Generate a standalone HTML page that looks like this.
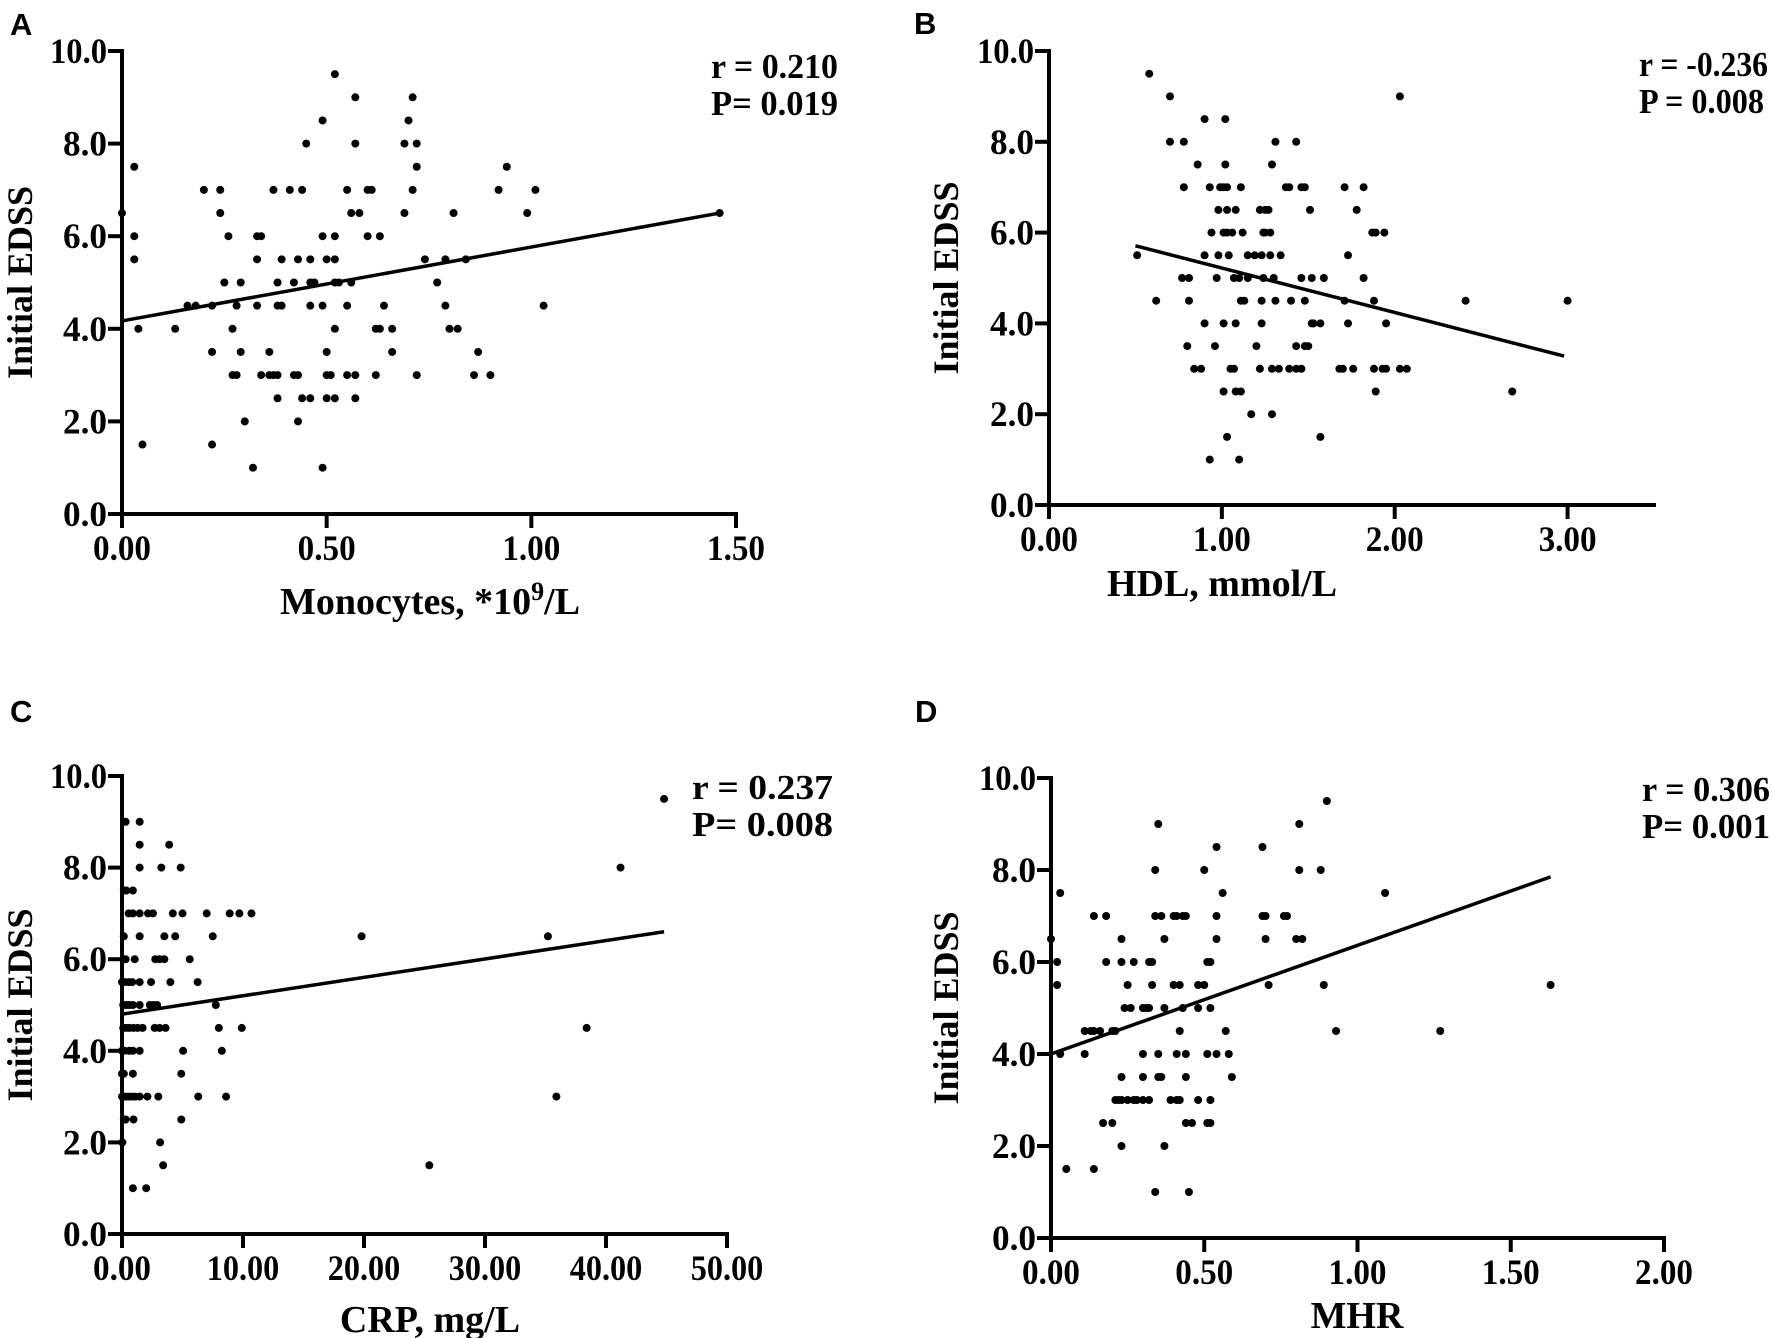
<!DOCTYPE html>
<html><head><meta charset="utf-8"><style>
html,body{margin:0;padding:0;background:#fff}
svg{display:block}
text{font-family:"Liberation Serif",serif;font-weight:bold;fill:#000}
.lt{font-family:"Liberation Sans",sans-serif}
</style></head><body>
<svg id="fig" width="1772" height="1338" viewBox="0 0 1772 1338" xmlns="http://www.w3.org/2000/svg"></svg>
<script>
// Panel A: Monocytes
const aX=[0,0.03,0.03,0.03,0.04,0.05,0.13,0.16,0.18,0.2,0.22,0.22,0.22,0.24,0.24,0.25,0.26,0.27,0.27,0.28,0.28,0.29,0.29,0.3,0.32,0.33,0.33,0.33,0.34,0.34,0.36,0.36,0.37,0.37,0.38,0.38,0.38,0.38,0.39,0.39,0.41,0.42,0.42,0.43,0.43,0.43,0.44,0.44,0.45,0.46,0.46,0.46,0.46,0.47,0.49,0.49,0.49,0.49,0.5,0.5,0.5,0.5,0.51,0.52,0.52,0.52,0.52,0.52,0.52,0.53,0.55,0.55,0.55,0.56,0.56,0.57,0.57,0.57,0.57,0.58,0.6,0.6,0.61,0.62,0.62,0.63,0.64,0.63,0.66,0.66,0.69,0.69,0.7,0.71,0.71,0.72,0.72,0.72,0.74,0.77,0.79,0.79,0.8,0.81,0.82,0.84,0.87,0.86,0.9,0.92,0.94,0.99,1.01,1.03,1.46];
const aY=[6.5,7.5,6,5.5,4,1.5,4,4.5,4.5,7,4.5,3.5,1.5,7,6.5,5,6,4,3,3,4.5,5,3.5,2,1,6,5.5,4.5,6,3,3,3.5,7,3,5,4.5,3,2.5,5.5,4.5,7,5,3,5.5,3,2,7,2.5,8,5.5,5,4.5,2.5,5,8.5,6,4.5,1,5.5,3.5,3,2.5,3,9.5,6,5.5,5,4,2.5,5,7,4.5,3,6.5,5,9,8,3,2.5,6.5,7,6,7,4,3,6,4.5,4,4,3.5,8,6.5,8.5,9,7,8,7.5,3,5.5,5,5.5,4.5,4,6.5,4,5.5,3.5,3,3,7,7.5,6.5,7,4.5,6.5];
const aLine=[0,4.17,1.46,6.5];
// Panel B: HDL
const bX=[0.58,0.70,2.03,0.90,1.02,0.70,0.78,1.31,1.43,0.86,1.02,1.29,
0.78,0.93,0.99,1.01,1.03,1.11,1.37,1.39,1.46,1.48,1.71,1.82,
0.98,1.03,1.08,1.22,1.25,1.27,1.51,1.78,
0.94,1.01,1.03,1.06,1.12,1.24,1.25,1.28,1.87,1.89,1.94,
0.51,0.90,0.98,1.04,1.15,1.19,1.23,1.28,1.34,1.73,
0.77,0.81,0.97,1.07,1.10,1.15,1.24,1.30,1.46,1.52,1.59,1.82,
0.62,0.81,1.11,1.13,1.23,1.31,1.40,1.48,1.71,1.88,2.41,3.00,
0.90,1.01,1.08,1.23,1.52,1.53,1.57,1.73,1.95,
0.80,0.96,1.20,1.43,1.48,1.50,
0.84,0.88,1.05,1.07,1.22,1.29,1.33,1.39,1.43,1.46,1.68,1.70,1.76,1.88,1.93,1.95,2.03,2.07,
1.01,1.08,1.11,1.89,2.68,1.17,1.29,1.03,1.57,0.93,1.10];
const bY=[9.5,9,9,8.5,8.5,8,8,8,8,7.5,7.5,7.5,
7,7,7,7,7,7,7,7,7,7,7,7,
6.5,6.5,6.5,6.5,6.5,6.5,6.5,6.5,
6,6,6,6,6,6,6,6,6,6,6,
5.5,5.5,5.5,5.5,5.5,5.5,5.5,5.5,5.5,5.5,
5,5,5,5,5,5,5,5,5,5,5,5,
4.5,4.5,4.5,4.5,4.5,4.5,4.5,4.5,4.5,4.5,4.5,4.5,
4,4,4,4,4,4,4,4,4,
3.5,3.5,3.5,3.5,3.5,3.5,
3,3,3,3,3,3,3,3,3,3,3,3,3,3,3,3,3,3,
2.5,2.5,2.5,2.5,2.5,2,2,1.5,1.5,1,1];
const bLine=[0.50,5.71,2.98,3.28];
// Panel C: CRP
const cX=[0.3,1.46,1.46,3.9,1.46,3.25,4.85,0.15,0.35,0.9,
0.55,0.9,1.46,2.15,2.56,4.2,5,7,8.9,9.7,10.7,
0.15,1.46,3.5,4.4,7.5,19.8,
0.15,0.3,1.05,2.75,3.1,3.5,5.6,
0,0.2,0.55,0.85,1.46,2.4,4.0,6.25,
0.1,0.35,0.6,0.9,1.46,2.3,2.6,2.9,7.75,
0.1,0.35,0.6,0.95,1.3,1.7,2.7,3.1,3.6,8.0,9.9,
0,0.2,0.6,0.9,1.46,5.05,8.25,
0,0.15,0.9,4.9,
0,0.3,0.55,0.8,1.1,1.46,2.1,3.0,6.3,8.6,
0.15,0.3,0.95,4.9,0.03,3.15,3.4,0.9,2.0,
25.4,35.2,35.9,38.4,41.2,44.8];
const cY=[9,9,8.5,8.5,8,8,8,7.5,7.5,7.5,
7,7,7,7,7,7,7,7,7,7,7,
6.5,6.5,6.5,6.5,6.5,6.5,
6,6,6,6,6,6,6,
5.5,5.5,5.5,5.5,5.5,5.5,5.5,5.5,
5,5,5,5,5,5,5,5,5,
4.5,4.5,4.5,4.5,4.5,4.5,4.5,4.5,4.5,4.5,4.5,
4,4,4,4,4,4,4,
3.5,3.5,3.5,3.5,
3,3,3,3,3,3,3,3,3,3,
2.5,2.5,2.5,2.5,2,2,1.5,1,1,
1.5,6.5,3,4.5,8,9.5];
const cLine=[0,4.8,44.8,6.6];
// Panel D: MHR
const dX=[0,0.02,0.02,0.03,0.03,0.05,0.11,0.11,0.13,0.14,0.14,0.14,0.16,0.17,0.18,0.18,0.2,0.2,0.21,0.21,0.22,0.23,0.23,0.23,0.23,0.23,0.24,0.25,0.25,0.26,0.27,0.27,0.28,0.3,0.3,0.3,0.3,0.31,0.32,0.32,0.32,0.33,0.33,0.34,0.34,0.34,0.35,0.35,0.35,0.36,0.36,0.37,0.37,0.37,0.39,0.4,0.4,0.41,0.41,0.41,0.42,0.42,0.42,0.43,0.43,0.44,0.44,0.44,0.44,0.46,0.45,0.48,0.48,0.48,0.5,0.5,0.51,0.51,0.52,0.52,0.52,0.52,0.51,0.54,0.54,0.54,0.54,0.56,0.57,0.58,0.59,0.69,0.69,0.7,0.7,0.71,0.76,0.77,0.8,0.81,0.81,0.82,0.88,0.89,0.9,0.93,1.09,1.27,1.63];
const dY=[6.5,6,5.5,7.5,4,1.5,4.5,4,4.5,7,4.5,1.5,4.5,2.5,7,6,4.5,2.5,4.5,3,3,6.5,6,3.5,3,2,5,5.5,3,5,6,3,3,5,4,3.5,3,5,6,5,3,6,5.5,8,7,1,9,4,3.5,7,3.5,6.5,5,2,3,7,5.5,7,4,3,5.5,4.5,3,7,5,7,4,3.5,2.5,2.5,1,5.5,5,3,8,5.5,6,4,6,5,3,2.5,2.5,8.5,7,6.5,4,7.5,4.5,4,3.5,8.5,7,7,6.5,5.5,7,7,6.5,9,8,6.5,8,5.5,9.5,4.5,7.5,4.5,5.5];
const dLine=[0,4.0,1.63,7.85];
const yTicks=[0,2,4,6,8,10];
const yTickLabels=["0.0","2.0","4.0","6.0","8.0","10.0"];
const aTicks=[0,0.5,1,1.5], aTickLabels=["0.00","0.50","1.00","1.50"];
const bTicks=[0,1,2,3], bTickLabels=["0.00","1.00","2.00","3.00"];
const cTicks=[0,10,20,30,40,50], cTickLabels=["0.00","10.00","20.00","30.00","40.00","50.00"];
const dTicks=[0,0.5,1,1.5,2], dTickLabels=["0.00","0.50","1.00","1.50","2.00"];

const NS="http://www.w3.org/2000/svg";
const svg=document.getElementById('fig');
function mk(tag,attrs,parent){const e=document.createElementNS(NS,tag);for(const k in attrs)e.setAttribute(k,attrs[k]);(parent||svg).appendChild(e);return e;}

function panel(cfg){
  const g=mk('g',{});
  
  
  const sx=v=>cfg.x0+(v-cfg.xmin)/(cfg.xmax-cfg.xmin)*(cfg.x1-cfg.x0);
  const sy=v=>cfg.y0-(v/10)*(cfg.y0-cfg.y1);
  const L=mk('text',{x:cfg.lx,y:cfg.ly,'font-size':31,class:'lt'},g);L.textContent=cfg.letter;
  
  
  const ya=mk('line',{x1:cfg.x0,y1:cfg.y1-2,x2:cfg.x0,y2:cfg.y0+14,stroke:'#000','stroke-width':4},g);
  
  
  const xa=mk('line',{x1:cfg.x0-14,y1:cfg.y0,x2:cfg.x1+2,y2:cfg.y0,stroke:'#000','stroke-width':4},g);
  
  
  yTicks.forEach((v,i)=>{
    const y=sy(v);
    mk('line',{x1:cfg.x0-14,y1:y,x2:cfg.x0,y2:y,stroke:'#000','stroke-width':4},g);
    const t=mk('text',{x:cfg.x0-15,y:y+12,'font-size':36,'text-anchor':'end',textLength:yTickLabels[i].length===4?57:44,lengthAdjust:'spacingAndGlyphs'},g);
    t.textContent=yTickLabels[i];
    
    
  });
  cfg.ticks.forEach((v,i)=>{
    const x=sx(v);
    mk('line',{x1:x,y1:cfg.y0,x2:x,y2:cfg.y0+14,stroke:'#000','stroke-width':4},g);
    const lab=cfg.tickLabels[i];
    const t=mk('text',{x:x,y:cfg.y0+46,'font-size':36,'text-anchor':'middle',textLength:lab.length*14.5,lengthAdjust:'spacingAndGlyphs'},g);
    t.textContent=lab;
    
    
  });
  const xt=mk('text',{x:cfg.xtx,y:cfg.xty,'font-size':38,'text-anchor':'middle'},g);
  xt.innerHTML=cfg.xtitle;
  
  
  const yc=(cfg.y0+cfg.y1)/2;
  const yt=mk('text',{x:0,y:0,'font-size':36,'text-anchor':'middle',transform:`translate(${cfg.ytx},${yc}) rotate(-90)`},g);
  yt.textContent='Initial EDSS';
  
  
  const r=mk('text',{x:cfg.sx,y:cfg.sy,'font-size':35,textLength:cfg.sw,lengthAdjust:'spacingAndGlyphs'},g);r.textContent=cfg.r;
  
  
  const p=mk('text',{x:cfg.sx,y:cfg.sy+37,'font-size':35,textLength:cfg.pw,lengthAdjust:'spacingAndGlyphs'},g);p.textContent=cfg.p;
  
  
  cfg.xs.forEach((v,i)=>{
    const c=mk('circle',{cx:sx(v),cy:sy(cfg.ys[i]),r:4,fill:'#000'},g);
    
    
  });
  const ln=cfg.line;
  const rl=mk('line',{x1:sx(ln[0]),y1:sy(ln[1]),x2:sx(ln[2]),y2:sy(ln[3]),stroke:'#000','stroke-width':3.5},g);
  
  
}
panel({id:'panel-a-monocytes',letter:'A',lx:10,ly:35,x0:122,x1:736,xmin:0,xmax:1.5,y0:514,y1:51,ticks:aTicks,tickLabels:aTickLabels,
  xtitle:'Monocytes, *10<tspan dy="-14" font-size="26">9</tspan><tspan dy="14">/L</tspan>',xtx:430,xty:614,ytx:32,
  sx:711,sy:78,sw:127,pw:127,r:'r = 0.210',p:'P= 0.019',xs:aX,ys:aY,line:aLine});
panel({id:'panel-b-hdl',letter:'B',lx:914,ly:34,x0:1049,x1:1654,xmin:0,xmax:3.5,y0:505,y1:51,ticks:bTicks,tickLabels:bTickLabels,
  xtitle:'HDL, mmol/L',xtx:1222,xty:596,ytx:958,
  sx:1639,sy:76,sw:129,pw:125,r:'r = -0.236',p:'P = 0.008',xs:bX,ys:bY,line:bLine});
panel({id:'panel-c-crp',letter:'C',lx:10,ly:722,x0:122,x1:727,xmin:0,xmax:50,y0:1234,y1:776,ticks:cTicks,tickLabels:cTickLabels,
  xtitle:'CRP, mg/L',xtx:430,xty:1332,ytx:32,
  sx:692,sy:799,sw:141,pw:141,r:'r = 0.237',p:'P= 0.008',xs:cX,ys:cY,line:cLine});
panel({id:'panel-d-mhr',letter:'D',lx:915,ly:722,x0:1051,x1:1664,xmin:0,xmax:2,y0:1238,y1:778,ticks:dTicks,tickLabels:dTickLabels,
  xtitle:'MHR',xtx:1357,xty:1328,ytx:958,
  sx:1642,sy:801,sw:128,pw:128,r:'r = 0.306',p:'P= 0.001',xs:dX,ys:dY,line:dLine});
</script>
</body></html>
